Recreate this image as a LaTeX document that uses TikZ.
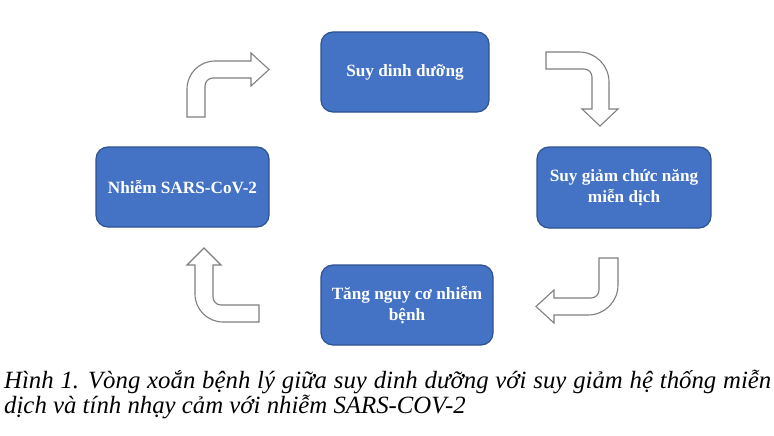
\documentclass[tikz,border=0pt]{standalone}
\usepackage{fontspec}
\setmainfont{Liberation Serif}
\definecolor{boxfill}{HTML}{4472C4}
\definecolor{boxline}{HTML}{2F528F}
\definecolor{arrline}{HTML}{7F7F7F}
\tikzset{
  stagebox/.style={draw=boxline, line width=1.2pt, fill=boxfill, rounded corners=12pt,
    text=white, align=center, inner sep=2pt,
    font=\bfseries\fontsize{17.2}{21}\selectfont},
  blockarrow/.style={draw=arrline, line width=1.1pt, fill=white, line join=miter},
  captext/.style={anchor=base west, inner sep=0pt, font=\itshape\fontsize{24.8}{27}\selectfont}
}
\begin{document}
\begin{tikzpicture}[x=1pt, y=-1pt]
\useasboundingbox (0,0) rectangle (774,436);
\fill[white] (0,0) rectangle (774,436);

% boxes
\node[stagebox, minimum width=168pt, minimum height=80pt] (top) at (405,72) {Suy dinh dưỡng};
\node[stagebox, minimum width=174pt, minimum height=81pt] (right) at (624,187.5) {Suy giảm chức năng\\miễn dịch};
\node[stagebox, minimum width=172pt, minimum height=80pt] (bottom) at (407,305) {Tăng nguy cơ nhiễm\\bệnh};
\node[stagebox, minimum width=173pt, minimum height=80pt] (left) at (182.5,187) {Nhiễm SARS-CoV-2};

% block arrows
% left -> top
\draw[blockarrow] (187,117) -- (187,89) .. controls (187,73.5) and (199.5,61) .. (215,61)
  -- (251,61) -- (251,53) -- (269,69.5) -- (251,86) -- (251,78) -- (213,78)
  .. controls (208.6,78) and (205,81.6) .. (205,86) -- (205,117) -- cycle;
% top -> right
\draw[blockarrow] (546,52) -- (579,52) .. controls (595.6,52) and (609,65.4) .. (609,82)
  -- (609,109) -- (618,109) -- (600,126) -- (582,109) -- (592,109) -- (592,77)
  .. controls (592,72.6) and (588.4,69) .. (584,69) -- (546,69) -- cycle;
% right -> bottom
\draw[blockarrow] (618,258) -- (618,285) .. controls (618,301.6) and (604.6,315) .. (588,315)
  -- (554,315) -- (554,323) -- (536,306.5) -- (554,290) -- (554,298) -- (591,298)
  .. controls (595.4,298) and (599,294.4) .. (599,290) -- (599,258) -- cycle;
% bottom -> left
\draw[blockarrow] (259,322) -- (223,322) .. controls (207.5,322) and (195,309.5) .. (195,294)
  -- (195,265) -- (187,265) -- (204,248) -- (221,265) -- (213,265) -- (213,297)
  .. controls (213,301.4) and (216.6,305) .. (221,305) -- (259,305) -- cycle;

% caption
\node[captext] (cap1) at (4,388) {\spaceskip=6.8pt Hình 1. Vòng xoắn bệnh lý giữa suy dinh dưỡng với suy giảm hệ thống miễn};
\node[captext] (cap2) at (4,413) {dịch và tính nhạy cảm với nhiễm SARS-COV-2};
\end{tikzpicture}
\end{document}
